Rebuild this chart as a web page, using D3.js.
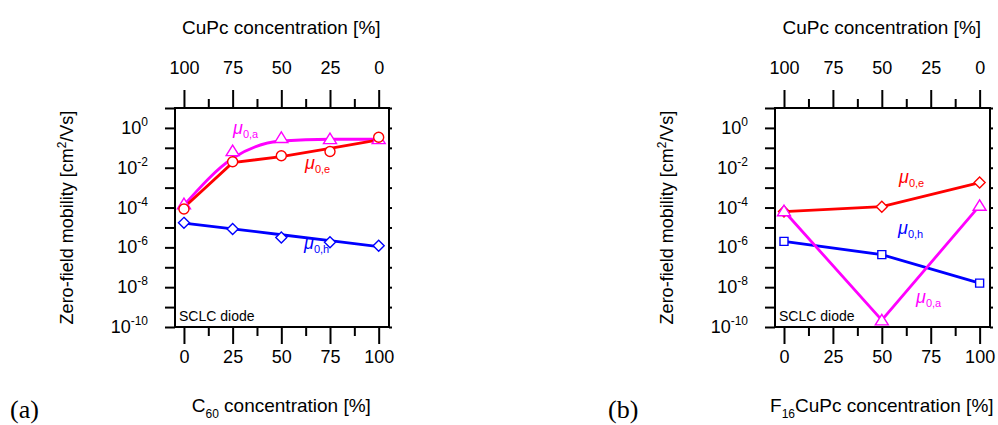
<!DOCTYPE html>
<html><head><meta charset="utf-8">
<script src="https://cdn.jsdelivr.net/npm/d3@7"></script>
<style>body{margin:0;background:#fff}svg{display:block}text{font-family:"Liberation Sans",Arial,sans-serif}</style>
</head><body>
<svg id="c" width="998" height="425"></svg>
<script>
// ---------- data ----------
const concA = [0, 25, 50, 75, 100];
const muA_a = [1.5e-4, 0.07, 0.32, 0.28, 0.28];
const muA_aFit = [1.3e-4, 0.03, 0.22, 0.27, 0.27];
const muA_e = [8.5e-5, 0.02, 0.04, 0.065, 0.34];
const muA_eFit = [1e-4, 0.018, 0.036, 0.095, 0.25];
const muA_h = [1.7e-5, 8.3e-6, 3.1e-6, 1.8e-6, 1.2e-6];
const muA_hFit = [1.66e-5, 8.5e-6, 4.3e-6, 2.2e-6, 1.1e-6];
const concB = [0, 50, 100];
const muB_e = [6.3e-5, 1.1e-4, 1.8e-3];
const muB_a = [6.7e-5, 2.2e-10, 1.25e-4];
const muB_h = [2e-6, 4.3e-7, 1.6e-8];
const xMajor = [0, 25, 50, 75, 100];
const xMinor = [12.5, 37.5, 62.5, 87.5];
const topLabels = ["100", "75", "50", "25", "0"];
const yExponents = [0, -2, -4, -6, -8, -10];
const yDecades = [1, 0, -1, -2, -3, -4, -5, -6, -7, -8, -9, -10];

const RED = "#ff0000", MAG = "#ff00ff", BLUE = "#0000ff";
const svg = d3.select("#c");

function sym(type, s) {
  if (type === "circle") return d3.symbol(d3.symbolCircle, Math.PI * s * s)();
  if (type === "tri") { const h = s * 0.9; return `M0,${-h}L${s},${h * 0.8}L${-s},${h * 0.8}Z`; }
  if (type === "diamond") return `M0,${-s}L${s},0L0,${s}L${-s},0Z`;
  if (type === "square") return `M${-s},${-s}H${s}V${s}H${-s}Z`;
}

function panel(o) {
  const g = svg.append("g");
  const x = d3.scaleLinear().domain([-4.6, 105.3]).range([o.left, o.right]);
  const y = d3.scaleLog().domain([1e-10, 10]).range([327, 108]);
  const top = 108, bottom = 327;

  g.append("g").attr("transform", `translate(0,${bottom})`)
    .call(d3.axisBottom(x).tickValues(xMajor).tickSize(17).tickPadding(6).tickFormat(d3.format("d")));
  g.append("g").attr("transform", `translate(0,${bottom})`)
    .call(d3.axisBottom(x).tickValues(xMinor).tickSize(9).tickFormat(""));
  g.append("g").attr("transform", `translate(0,${top})`)
    .call(d3.axisTop(x).tickValues(xMajor).tickSize(18).tickPadding(16).tickFormat((d, i) => topLabels[i]));
  g.append("g").attr("transform", `translate(0,${top})`)
    .call(d3.axisTop(x).tickValues(xMinor).tickSize(9).tickFormat(""));
  g.append("g").attr("transform", `translate(${o.left},0)`)
    .call(d3.axisLeft(y).tickValues(yDecades.map(e => Math.pow(10, e))).tickSize(10).tickFormat(""));
  g.append("g").attr("transform", `translate(${o.right},0)`)
    .call(d3.axisRight(y).tickValues(yDecades.map(e => Math.pow(10, e))).tickSize(3).tickFormat(""));

  g.selectAll(".domain").remove();
  g.selectAll(".tick line").attr("stroke", "#000").attr("stroke-width", 2);
  g.selectAll(".tick text").attr("font-size", 18).attr("fill", "#000").style("font-family", '"Liberation Sans",Arial,sans-serif');

  yExponents.forEach(e => {
    const t = g.append("text").attr("x", o.left - 27).attr("y", y(Math.pow(10, e)) + 6)
      .attr("text-anchor", "end").attr("font-size", 18);
    t.append("tspan").text("10");
    t.append("tspan").attr("dy", -8).attr("font-size", 12).text(e);
  });

  g.append("rect").attr("x", o.left).attr("y", top).attr("width", o.right - o.left).attr("height", bottom - top)
    .attr("fill", "none").attr("stroke", "#000").attr("stroke-width", 2);

  const cx = (x(0) + x(100)) / 2;
  g.append("text").attr("x", cx).attr("y", 34).attr("text-anchor", "middle").attr("font-size", 19).text("CuPc concentration [%]");
  const bt = g.append("text").attr("x", cx).attr("y", 412).attr("text-anchor", "middle").attr("font-size", 19);
  bt.append("tspan").text(o.subA);
  bt.append("tspan").attr("dy", 6).attr("font-size", 12).text(o.subB);
  bt.append("tspan").attr("dy", -6).text(o.subC);
  const yt = g.append("text").attr("transform", `translate(${o.left - 102},${(top + bottom) / 2}) rotate(-90)`)
    .attr("text-anchor", "middle").attr("font-size", 18);
  yt.append("tspan").text("Zero-field mobility [cm");
  yt.append("tspan").attr("dy", -7).attr("font-size", 12).text("2");
  yt.append("tspan").attr("dy", 7).text("/Vs]");

  g.append("text").attr("x", o.panelX).attr("y", 418).attr("font-size", 26)
    .style("font-family", '"Liberation Serif","Times New Roman",serif').text(o.panel);

  g.append("text").attr("x", o.left + 4).attr("y", 321).attr("font-size", 14).text("SCLC diode");

  const clip = "clip" + o.panel.replace(/\W/g, "");
  svg.append("clipPath").attr("id", clip).append("rect")
    .attr("x", o.left).attr("y", top).attr("width", o.right - o.left).attr("height", bottom - top);
  o.series.forEach(s => {
    const line = d3.line().x((d, i) => x(s.xs[i])).y(d => y(d)).curve(s.curve || d3.curveLinear);
    g.append("path").attr("d", line(s.fit)).attr("fill", "none").attr("stroke", s.color)
      .attr("stroke-width", 2.8).attr("clip-path", `url(#${clip})`);
  });
  o.series.forEach(s => {
    g.selectAll(null).data(s.vals).enter().append("path")
      .attr("transform", (d, i) => `translate(${x(s.xs[i])},${y(d)})`)
      .attr("d", sym(s.marker, s.size)).attr("fill", "#fff").attr("stroke", s.color).attr("stroke-width", 1.4);
  });
  o.labels.forEach(l => {
    const t = g.append("text").attr("x", l.x).attr("y", l.y).attr("fill", l.color).attr("font-size", 18);
    t.append("tspan").attr("font-style", "italic").text("μ");
    t.append("tspan").attr("dy", 4).attr("font-size", 11).text(l.sub);
  });
}

panel({
  left: 175, right: 389, panel: "(a)", panelX: 10, subA: "C", subB: "60", subC: " concentration [%]",
  series: [
    { xs: concA, vals: muA_a, fit: muA_aFit, color: MAG, marker: "tri", size: 6.5, curve: d3.curveMonotoneX },
    { xs: concA, vals: muA_e, fit: muA_eFit, color: RED, marker: "circle", size: 5 },
    { xs: concA, vals: muA_h, fit: muA_hFit, color: BLUE, marker: "diamond", size: 5.5 }
  ],
  labels: [
    { x: 233, y: 134, color: MAG, sub: "0,a" },
    { x: 305, y: 169, color: RED, sub: "0,e" },
    { x: 304, y: 249, color: BLUE, sub: "0,h" }
  ]
});
panel({
  left: 775, right: 990, panel: "(b)", panelX: 608, subA: "F", subB: "16", subC: "CuPc concentration [%]",
  series: [
    { xs: concB, vals: muB_e, fit: muB_e, color: RED, marker: "diamond", size: 5.5 },
    { xs: concB, vals: muB_h, fit: muB_h, color: BLUE, marker: "square", size: 4 },
    { xs: concB, vals: muB_a, fit: muB_a, color: MAG, marker: "tri", size: 6.5 }
  ],
  labels: [
    { x: 899, y: 183, color: RED, sub: "0,e" },
    { x: 898, y: 234, color: BLUE, sub: "0,h" },
    { x: 916, y: 303, color: MAG, sub: "0,a" }
  ]
});
</script>
</body></html>
